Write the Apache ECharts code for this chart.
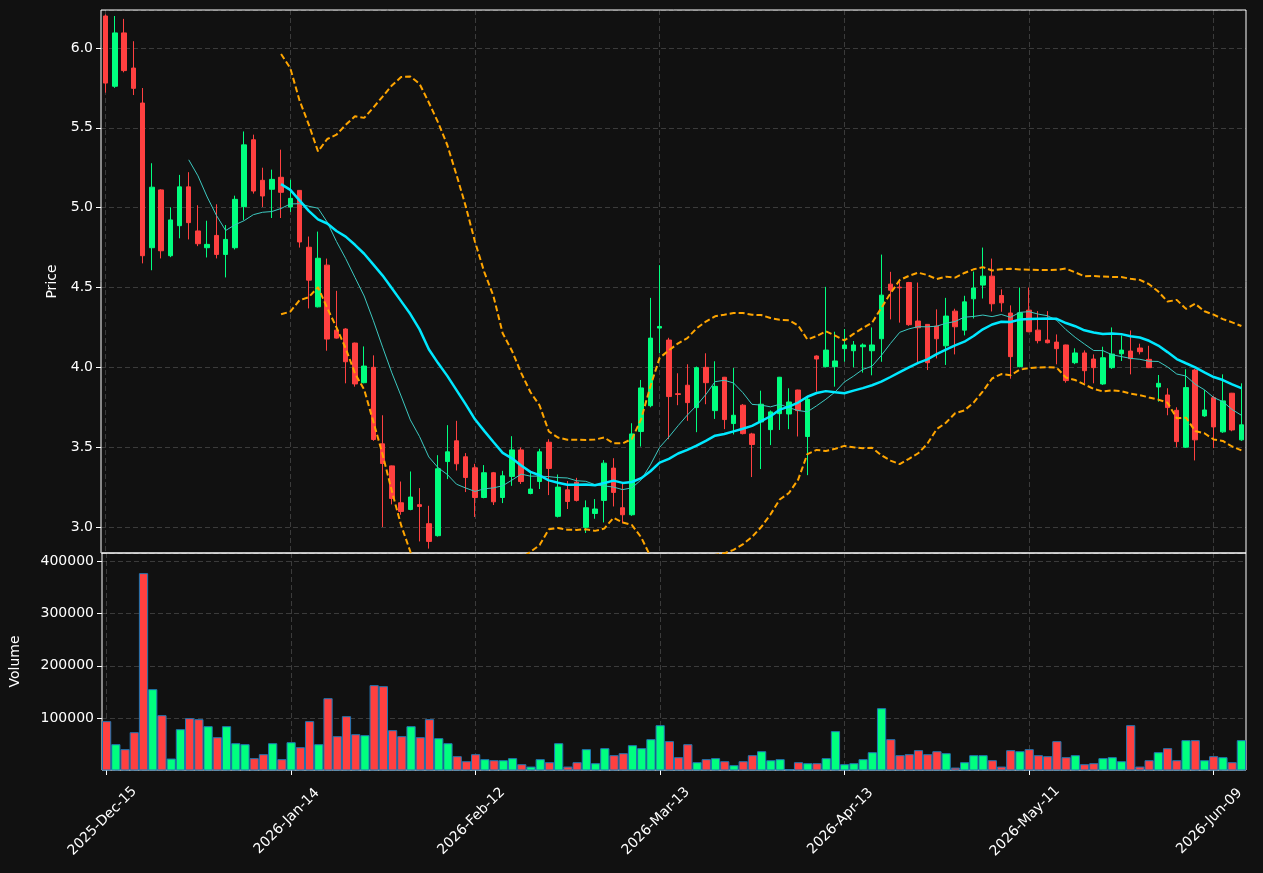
<!DOCTYPE html>
<html>
<head>
<meta charset="utf-8">
<script src="https://cdn.jsdelivr.net/npm/echarts@6/dist/echarts.min.js"></script>
<style>
  html, body { margin: 0; background: #111111; }
  #chart { width: 1263px; height: 873px; }
</style>
</head>
<body>
<div id="chart"></div>
<script>
// candles: open / high / low / close, one per trading day
const opens = [6.20, 5.76, 6.094, 5.874, 5.655, 4.749, 5.111, 4.699, 4.887, 5.130,
  4.854, 4.749, 4.826, 4.707, 4.749, 5.006, 5.425, 5.171, 5.115, 5.19,
  5.004, 5.108, 4.752, 4.379, 4.640, 4.233, 4.240, 4.152, 3.904, 4.0,
  3.521, 3.383, 3.152, 3.110, 3.140, 3.021, 2.946, 3.410, 3.540, 3.440,
  3.371, 3.185, 3.340, 3.185, 3.317, 3.483, 3.210, 3.285, 3.531, 3.067,
  3.233, 3.281, 2.998, 3.085, 3.167, 3.369, 3.121, 3.077, 3.598, 3.76,
  4.246, 4.171, 3.835, 3.888, 3.748, 4.0, 3.729, 3.938, 3.648, 3.763,
  3.583, 3.658, 3.610, 3.710, 3.708, 3.858, 3.567, 4.071, 4.004, 4.004,
  4.117, 4.104, 4.129, 4.104, 4.179, 4.521, 4.502, 4.531, 4.29, 4.269,
  4.258, 4.135, 4.352, 4.233, 4.429, 4.515, 4.571, 4.45, 4.34, 4.004,
  4.358, 4.233, 4.171, 4.158, 4.14, 4.029, 4.09, 4.052, 3.896, 3.998,
  4.085, 4.102, 4.121, 4.05, 3.877, 3.827, 3.731, 3.5, 3.983, 3.696,
  3.81, 3.596, 3.838, 3.546];
const highs = [6.21, 6.20, 6.182, 6.042, 5.749, 5.278, 5.115, 5.002, 5.205, 5.222,
  5.015, 4.918, 5.021, 4.891, 5.075, 5.477, 5.457, 5.25, 5.238, 5.363,
  5.175, 5.11, 4.819, 4.85, 4.681, 4.479, 4.245, 4.155, 4.131, 4.075,
  3.70, 3.385, 3.285, 3.348, 3.244, 3.133, 3.45, 3.638, 3.665, 3.463,
  3.396, 3.388, 3.345, 3.352, 3.569, 3.498, 3.338, 3.49, 3.55, 3.329,
  3.288, 3.308, 3.167, 3.175, 3.419, 3.431, 3.275, 3.65, 3.921, 4.435,
  4.64, 4.185, 3.963, 4.019, 4.005, 4.088, 4.038, 3.94, 3.996, 3.77,
  3.59, 3.854, 3.73, 3.94, 3.869, 3.86, 3.81, 4.075, 4.504, 4.223,
  4.24, 4.165, 4.15, 4.25, 4.706, 4.598, 4.535, 4.535, 4.531, 4.27,
  4.363, 4.435, 4.367, 4.448, 4.6, 4.75, 4.681, 4.488, 4.388, 4.5,
  4.5, 4.352, 4.352, 4.206, 4.142, 4.119, 4.106, 4.081, 4.129, 4.25,
  4.2, 4.231, 4.148, 4.135, 3.952, 3.869, 3.75, 3.988, 3.99, 3.858,
  3.82, 3.956, 3.84, 3.9];
const lows = [5.72, 5.75, 5.847, 5.705, 4.651, 4.608, 4.682, 4.69, 4.808, 4.801,
  4.759, 4.688, 4.682, 4.563, 4.738, 4.923, 5.088, 5.004, 4.935, 4.935,
  4.973, 4.75, 4.369, 4.375, 4.104, 4.18, 3.90, 3.879, 3.90, 3.54,
  3.0, 3.142, 3.077, 3.105, 2.910, 2.865, 2.94, 3.30, 3.354, 3.219,
  3.063, 3.18, 3.138, 3.15, 3.258, 3.27, 3.205, 3.238, 3.20, 3.06,
  3.113, 3.16, 2.963, 3.052, 3.029, 3.129, 3.025, 3.07, 3.504, 3.75,
  4.088, 3.55, 3.763, 3.665, 3.594, 3.769, 3.677, 3.613, 3.58, 3.58,
  3.313, 3.363, 3.513, 3.608, 3.613, 3.567, 3.325, 3.848, 4.0, 3.879,
  4.035, 4.0, 3.967, 3.95, 4.035, 4.30, 4.28, 4.26, 4.029, 3.983,
  4.056, 4.015, 4.081, 4.2, 4.306, 4.431, 4.35, 4.348, 3.929, 4.0,
  4.22, 4.15, 4.15, 4.019, 3.904, 4.02, 3.9, 3.9, 3.89, 3.99,
  4.04, 3.956, 4.081, 3.995, 3.785, 3.70, 3.5, 3.495, 3.417, 3.69,
  3.494, 3.59, 3.6, 3.54];
const closes = [5.78, 6.094, 5.858, 5.747, 4.699, 5.128, 4.730, 4.923, 5.130, 4.906,
  4.774, 4.770, 4.707, 4.801, 5.052, 5.393, 5.104, 5.073, 5.177, 5.096,
  5.058, 4.785, 4.546, 4.683, 4.177, 4.183, 4.035, 3.896, 4.008, 3.548,
  3.398, 3.179, 3.098, 3.188, 3.129, 2.910, 3.365, 3.471, 3.396, 3.310,
  3.185, 3.340, 3.158, 3.321, 3.483, 3.285, 3.238, 3.471, 3.367, 3.25,
  3.160, 3.167, 3.121, 3.113, 3.40, 3.217, 3.077, 3.583, 3.871, 4.183,
  4.256, 3.817, 3.83, 3.779, 3.998, 3.904, 3.881, 3.673, 3.70, 3.585,
  3.517, 3.769, 3.721, 3.938, 3.783, 3.729, 3.80, 4.052, 4.108, 4.040,
  4.140, 4.14, 4.14, 4.14, 4.452, 4.483, 4.498, 4.267, 4.248, 4.029,
  4.179, 4.321, 4.254, 4.41, 4.497, 4.571, 4.398, 4.404, 4.067, 4.342,
  4.223, 4.167, 4.154, 4.117, 3.917, 4.09, 3.979, 3.998, 4.06, 4.083,
  4.108, 4.054, 4.098, 3.998, 3.9, 3.748, 3.535, 3.873, 3.546, 3.733,
  3.627, 3.79, 3.608, 3.64];
const volumes = [94300, 50300, 40800, 73200, 377000, 155400, 105700, 22900, 79000, 100000,
  98100, 84700, 63700, 84700, 52200, 50300, 23600, 31200, 52200, 21700,
  54100, 44600, 94300, 50300, 138200, 65600, 103800, 69400, 67500, 163100,
  161100, 77100, 65600, 84700, 63700, 98100, 61800, 52200, 27400, 17800,
  31200, 21700, 19700, 19700, 23600, 12100, 7600, 21700, 15900, 52200,
  7600, 15900, 40800, 14000, 42700, 29300, 33100, 48400, 42700, 59900,
  86600, 56100, 25500, 50300, 15900, 21700, 23600, 17800, 10200, 17800,
  29300, 36900, 19700, 21700, 2500, 15900, 14000, 14000, 23600, 75200,
  12100, 14000, 21700, 35000, 119100, 59900, 29300, 31200, 38900, 31200,
  36900, 33100, 5700, 15900, 29300, 29300, 19700, 7600, 38900, 36900,
  40800, 29300, 27400, 56100, 25500, 29300, 12100, 14000, 23600, 25500,
  17800, 86600, 7600, 19700, 35000, 42700, 19700, 58000, 58000, 19700,
  27400, 25500, 15900, 58000];

const startDay = '2025-12-15';
const closedDays = ['2025-12-25', '2026-01-01', '2026-01-19', '2026-02-16', '2026-04-03', '2026-05-25'];
const monthNames = ['Jan', 'Feb', 'Mar', 'Apr', 'May', 'Jun', 'Jul', 'Aug', 'Sep', 'Oct', 'Nov', 'Dec'];

function tradingDays(start, count) {
  let out = [];
  let d = new Date(start + 'T00:00:00Z');
  while (out.length < count) {
    let iso = d.toISOString().slice(0, 10);
    let wd = d.getUTCDay();
    if (wd !== 0 && wd !== 6 && closedDays.indexOf(iso) < 0) {
      out.push(d.getUTCFullYear() + '-' + monthNames[d.getUTCMonth()] + '-' + iso.slice(8, 10));
    }
    d.setUTCDate(d.getUTCDate() + 1);
  }
  return out;
}
const dates = tradingDays(startDay, closes.length);

function sma(arr, n) {
  return arr.map((v, i) => {
    if (i < n - 1) return '-';
    let s = 0;
    for (let k = i - n + 1; k <= i; k++) s += arr[k];
    return +(s / n).toFixed(4);
  });
}
// bollinger band edge, population std
function band(arr, n, mult) {
  return arr.map((v, i) => {
    if (i < n - 1) return '-';
    let s = 0;
    for (let k = i - n + 1; k <= i; k++) s += arr[k];
    let m = s / n, q = 0;
    for (let k = i - n + 1; k <= i; k++) q += (arr[k] - m) * (arr[k] - m);
    return +(m + mult * Math.sqrt(q / n)).toFixed(4);
  });
}

const ma10 = sma(closes, 10);
const ma20 = sma(closes, 20);
const bbUpper = band(closes, 20, 2);
const bbLower = band(closes, 20, -2);

const upColor = '#00ff7f';
const downColor = '#ff4040';
const every20 = (idx) => idx % 20 === 0;
const gridLine = { color: 'rgba(255,255,255,0.18)', type: [5, 3] };

let chart = echarts.init(document.getElementById('chart'));
let option = {
  backgroundColor: '#111111',
  animation: false,
  textStyle: { fontFamily: 'DejaVu Sans' },
  grid: [
    { left: 101, right: 17, top: 10, height: 543, show: true, borderColor: '#ffffff', borderWidth: 1, backgroundColor: 'transparent' },
    { left: 101, right: 17, top: 553, height: 217, show: true, borderColor: '#ffffff', borderWidth: 1, backgroundColor: 'transparent' }
  ],
  xAxis: [
    {
      type: 'category', gridIndex: 0, data: dates, boundaryGap: true,
      axisLine: { show: false },
      axisTick: { show: false },
      axisLabel: { show: false },
      splitLine: { show: true, interval: every20, alignWithLabel: true, lineStyle: gridLine }
    },
    {
      type: 'category', gridIndex: 1, data: dates, boundaryGap: true,
      axisLine: { show: false },
      axisTick: { show: true, interval: every20, alignWithLabel: true, length: 5, lineStyle: { color: '#ffffff' } },
      axisLabel: { interval: every20, rotate: 45, align: 'center', verticalAlign: 'middle', margin: 47, padding: [0, 12, 0, 0], color: '#ffffff', fontSize: 14 },
      splitLine: { show: true, interval: every20, alignWithLabel: true, lineStyle: gridLine }
    }
  ],
  yAxis: [
    {
      type: 'value', gridIndex: 0, min: 2.8375, max: 6.2375, scale: true,
      name: 'Price', nameLocation: 'middle', nameRotate: 90, nameGap: 41,
      nameTextStyle: { color: '#ffffff', fontSize: 14 },
      axisLine: { show: false },
      axisTick: { show: true, length: 5, lineStyle: { color: '#ffffff' } },
      axisLabel: { color: '#ffffff', fontSize: 14, margin: 8, showMinLabel: false, showMaxLabel: false, formatter: (v) => v.toFixed(1) },
      splitLine: { show: true, lineStyle: gridLine }
    },
    {
      type: 'value', gridIndex: 1, min: 1000, max: 415500,
      name: 'Volume', nameLocation: 'middle', nameRotate: 90, nameGap: 80,
      nameTextStyle: { color: '#ffffff', fontSize: 14 },
      axisLine: { show: false },
      axisTick: { show: true, length: 5, lineStyle: { color: '#ffffff' } },
      axisLabel: { color: '#ffffff', fontSize: 14, margin: 8, showMinLabel: false, showMaxLabel: false, formatter: (v) => String(v) },
      splitLine: { show: true, lineStyle: gridLine }
    }
  ],
  series: [
    {
      name: 'Candles', type: 'candlestick', xAxisIndex: 0, yAxisIndex: 0,
      barWidth: 5,
      data: closes.map((c, i) => [opens[i], c, lows[i], highs[i]]),
      itemStyle: { color: upColor, color0: downColor, borderColor: upColor, borderColor0: downColor, borderWidth: 1 },
      z: 2
    },
    {
      name: 'MA10', type: 'line', xAxisIndex: 0, yAxisIndex: 0, data: ma10,
      showSymbol: false, lineStyle: { color: '#3cc8c0', width: 1 }, z: 3
    },
    {
      name: 'MA20', type: 'line', xAxisIndex: 0, yAxisIndex: 0, data: ma20,
      showSymbol: false, lineStyle: { color: '#00e8ff', width: 2.5 }, z: 4
    },
    {
      name: 'BB upper', type: 'line', xAxisIndex: 0, yAxisIndex: 0, data: bbUpper,
      showSymbol: false, lineStyle: { color: '#ffa500', width: 2, type: [6, 3] }, z: 4
    },
    {
      name: 'BB lower', type: 'line', xAxisIndex: 0, yAxisIndex: 0, data: bbLower,
      showSymbol: false, lineStyle: { color: '#ffa500', width: 2, type: [6, 3] }, z: 4
    },
    {
      name: 'Volume', type: 'bar', xAxisIndex: 1, yAxisIndex: 1,
      barWidth: '100%',
      data: volumes.map((v, i) => ({
        value: v,
        itemStyle: { color: closes[i] >= opens[i] ? upColor : downColor }
      })),
      itemStyle: { borderColor: '#1f77b4', borderWidth: 1 }
    }
  ]
};
chart.setOption(option);
</script>
</body>
</html>
